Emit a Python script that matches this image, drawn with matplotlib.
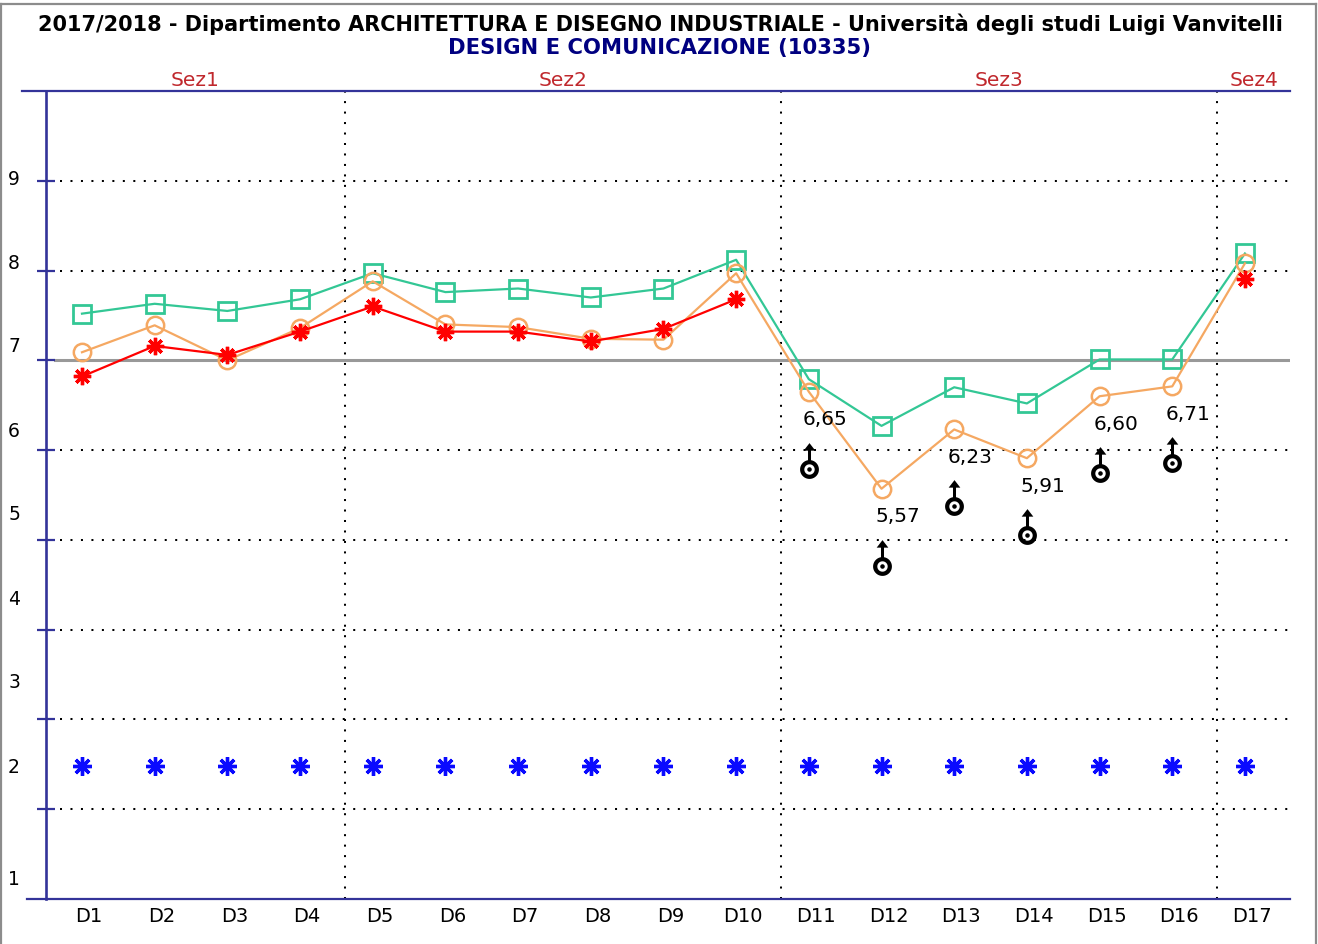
#!/usr/bin/env python3
"""Valutazione della didattica 2017/2018 - Design e Comunicazione (10335)."""

import numpy as np
import matplotlib

matplotlib.use("Agg")
import matplotlib.pyplot as plt
from matplotlib.lines import Line2D
from matplotlib.path import Path
from matplotlib.transforms import ScaledTranslation, blended_transform_factory

# ── Data ─────────────────────────────────────────────────────────────
domande = [f"D{i}" for i in range(1, 18)]
sezioni = ["Sez1", "Sez2", "Sez3", "Sez4"]
fine_sezione = [4, 10, 16, 17]  # last question of each section

corso = [7.52, 7.63, 7.55, 7.68, 7.97, 7.76, 7.80, 7.70, 7.80, 8.12,
         6.79, 6.27, 6.70, 6.52, 7.01, 7.01, 8.19]
dipartimento = [7.09, 7.39, 7.00, 7.36, 7.88, 7.40, 7.37, 7.24, 7.23, 7.97,
                6.65, 5.57, 6.23, 5.91, 6.60, 6.71, 8.08]
ateneo = [6.82, 7.16, 7.06, 7.32, 7.60, 7.32, 7.32, 7.21, 7.35, 7.68,
          np.nan, np.nan, np.nan, np.nan, np.nan, np.nan, 7.91]
riferimento = [2.48] * 17

soglia = 7
y_labels = ["9", "8", "7", "6", "5", "4", "3", "2", "1"]
y_label_pos = [9.02, 8.09, 7.16, 6.22, 5.29, 4.35, 3.42, 2.48, 1.23]

W, H, DPI = 1318, 945, 100
NAVY = "#333399"
GREEN = "#33c795"
ORANGE = "#f5a862"
SEZ_RED = "#c0282d"


def px(x):
    return x / W


def py(y):
    return 1 - y / H


def flag_marker():
    """Ring with a dot and an arrow on top."""
    t = np.linspace(0, 2 * np.pi, 48)
    outer = np.column_stack([np.cos(t), np.sin(t)])
    inner = np.column_stack([0.55 * np.cos(t[::-1]), 0.55 * np.sin(t[::-1])])
    dot = np.column_stack([0.24 * np.cos(t), 0.24 * np.sin(t)])
    stem = np.array([[-0.16, 0.9], [0.16, 0.9], [0.16, 2.1], [-0.16, 2.1], [-0.16, 0.9]])
    head = np.array([[-0.62, 2.0], [0.62, 2.0], [0.0, 2.8], [-0.62, 2.0]])
    parts = [Path(p, closed=True) for p in (outer, inner, dot, stem, head)]
    return Path.make_compound_path(*parts)


fig = plt.figure(figsize=(W / DPI, H / DPI), dpi=DPI)
ax = fig.add_axes([px(46), 1 - 900 / H, px(1290 - 46), (900 - 92) / H])

x = np.arange(1, len(domande) + 1)
ax.set_xlim(0.505, 17.62)
ax.set_ylim(1, 10)

for s in ("top", "right", "bottom"):
    ax.spines[s].set_visible(False)
ax.spines["left"].set_color(NAVY)
ax.spines["left"].set_linewidth(1.9)

# y ticks: marks on the grid, labels drawn by hand (they sit off the grid)
ax.set_yticks(range(2, 10))
ax.tick_params(axis="y", direction="inout", length=13, width=1.6,
               color=NAVY, labelleft=False)
lab_tr = blended_transform_factory(fig.transFigure, ax.transData)
for lab, pos in zip(y_labels, y_label_pos):
    ax.text(px(14), pos, lab, transform=lab_tr, ha="center", va="center",
            fontsize=13.5, clip_on=False)

ax.set_xticks(x, domande)
ax.tick_params(axis="x", length=0, pad=5, labelsize=14)
shift = ScaledTranslation(7 / DPI, 0, fig.dpi_scale_trans)
for lab in ax.get_xticklabels():
    lab.set_transform(lab.get_transform() + shift)

# grid
x0 = (60 - 46) / (1290 - 46)
for yv in range(2, 10):
    if yv == soglia:
        ax.axhline(yv, xmin=(55 - 46) / (1290 - 46), xmax=1, color="#999999",
                   lw=2.2, zorder=1)
    else:
        ax.axhline(yv, xmin=x0, xmax=1, color="black", lw=1.45,
                   ls=(0, (1, 4.2)), zorder=1)

# section dividers and names
left = ax.get_xlim()[0]
for name, end in zip(sezioni, fine_sezione):
    right = end + 0.62 if end < len(domande) else ax.get_xlim()[1]
    if end < len(domande):
        ax.axvline(right, color="black", lw=1.45, ls=(0, (1, 4.2)), zorder=1)
    ax.text((left + right) / 2, 1 + (900 - 80) / 89.78, name, ha="center",
            va="center", color=SEZ_RED, fontsize=14.5, clip_on=False)
    left = right

# series
ax.plot(x, corso, color=GREEN, lw=1.6, marker="s", ms=12.5, mfc="none",
        mec=GREEN, mew=2.0, zorder=3)
ax.plot(x, dipartimento, color=ORANGE, lw=1.6, marker="o", ms=12.5,
        mfc="none", mec=ORANGE, mew=1.8, zorder=4)
ax.plot(x, ateneo, color="red", lw=1.6, marker=(8, 2, 0), ms=12.5,
        mec="red", mew=2.4, zorder=5)
ax.plot(x, riferimento, ls="none", marker=(8, 2, 0), ms=13.5, mec="#0a0aff",
        mew=2.4, zorder=5)
ax.plot(x, riferimento, ls="none", marker="o", ms=5, mfc="#0a0aff",
        mec="#0a0aff", zorder=5)

# values below the threshold: label and flag
low = [i for i, v in enumerate(dipartimento) if v < soglia]
flag_tr = ax.transData + ScaledTranslation(0, -77 / DPI, fig.dpi_scale_trans)
ax.plot(x[low], [dipartimento[i] for i in low], ls="none", marker=flag_marker(),
        ms=38, mfc="black", mec="black", mew=0, transform=flag_tr, zorder=6)
for i in low:
    ax.annotate(f"{dipartimento[i]:.2f}".replace(".", ","), (x[i], dipartimento[i]),
                xytext=(16, -27), textcoords="offset pixels", ha="center",
                va="center", fontsize=14.5, zorder=6)

# frame lines outside the axes
fig.add_artist(Line2D([px(22), px(1290)], [py(92)] * 2, color=NAVY, lw=1.6))
fig.add_artist(Line2D([px(27), px(1290)], [py(900)] * 2, color=NAVY, lw=1.6))
for xs, ys in (([px(1), px(1)], [0, py(5)]),
               ([px(1), px(1316)], [py(5), py(5)]),
               ([px(1316), px(1316)], [py(5), 0])):
    fig.add_artist(Line2D(xs, ys, color="#8c8c8c", lw=1.6))

fig.text(px(660), py(24),
         "2017/2018 - Dipartimento ARCHITETTURA E DISEGNO INDUSTRIALE - "
         "Università degli studi Luigi Vanvitelli",
         ha="center", va="center", fontsize=15, fontweight="bold")
fig.text(px(659), py(48), "DESIGN E COMUNICAZIONE (10335)", ha="center",
         va="center", fontsize=15.2, fontweight="bold", color="#000080")

fig.savefig("out.png", dpi=DPI)
